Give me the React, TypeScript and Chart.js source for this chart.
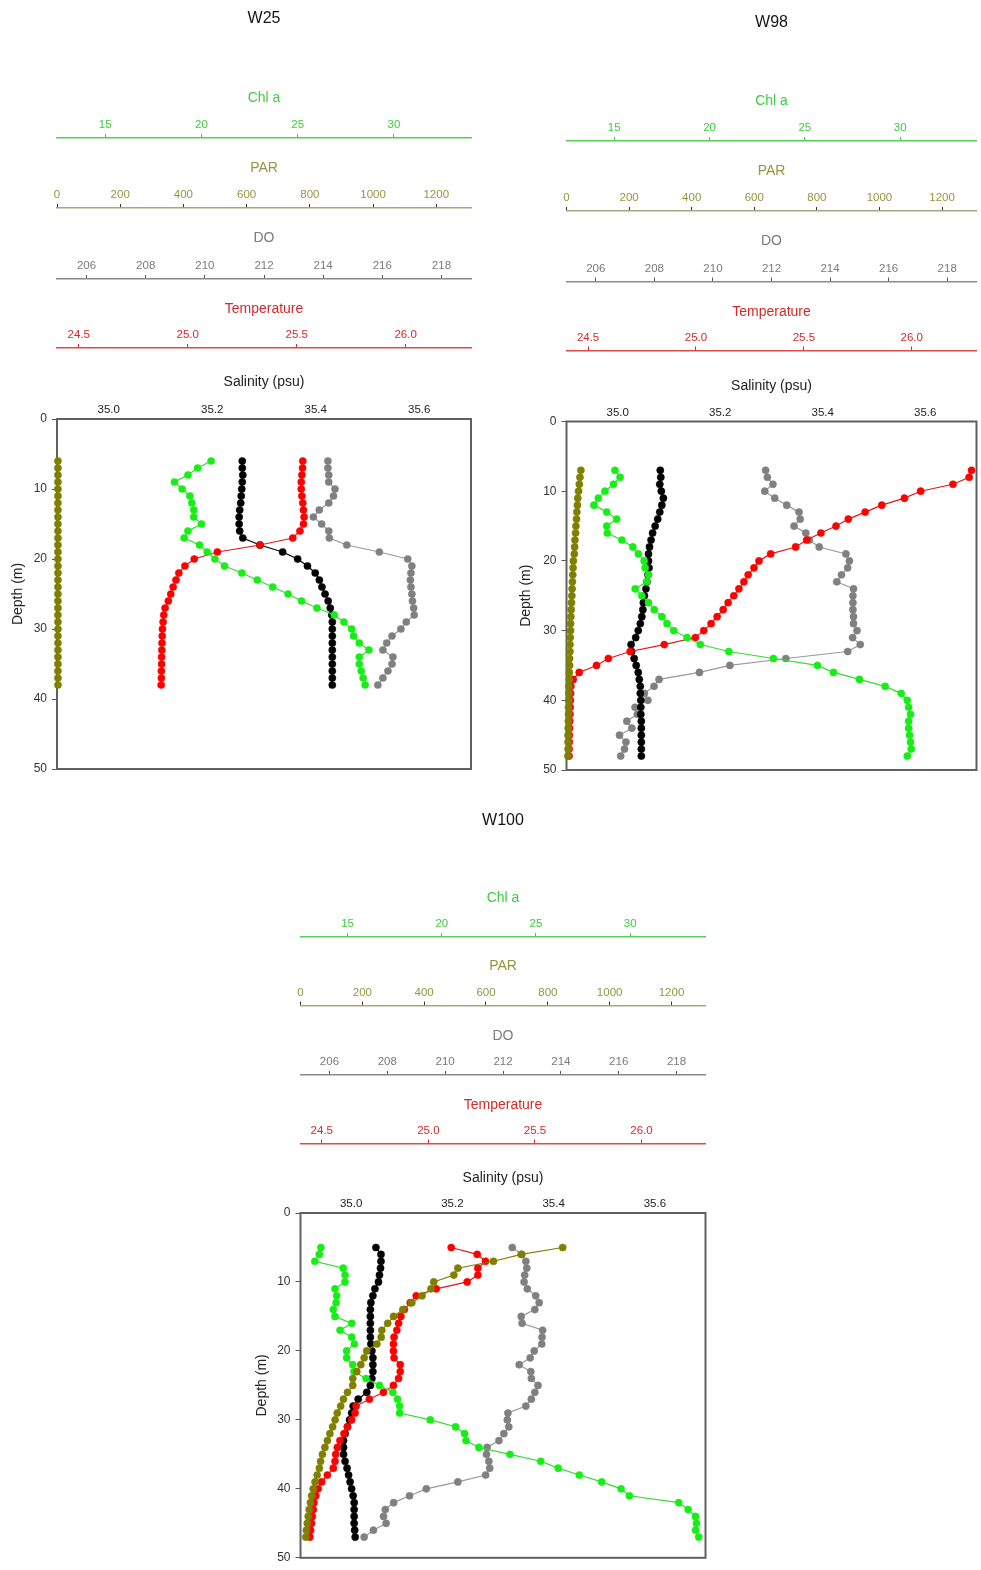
import React, { useEffect, useRef } from 'react';
import { Chart, registerables } from 'chart.js';

Chart.register(...registerables);

const FONT = '"Liberation Sans", Arial, Helvetica, sans-serif';

// ---- Axis ranges and tick values ----
const CHL_RANGE = [12.5, 34];
const PAR_RANGE = [0, 1310];
const DO_RANGE = [205, 219];
const TEMP_RANGE = [24.4, 26.3];
const SAL_RANGE = [34.9, 35.7];
const DEPTH_RANGE = [0, 50];

const CHL_TICKS = [15, 20, 25, 30];
const PAR_TICKS = [0, 200, 400, 600, 800, 1000, 1200];
const DO_TICKS = [206, 208, 210, 212, 214, 216, 218];
const TEMP_TICKS = [24.5, 25.0, 25.5, 26.0];
const SAL_TICKS = [35.0, 35.2, 35.4, 35.6];
const DEPTH_TICKS = [0, 10, 20, 30, 40, 50];

// ---- Station W25 ----
const DEPTH_W25 = [6, 7, 8, 9, 10, 11, 12, 13, 14, 15, 16, 17, 18, 19, 20, 21, 22, 23, 24, 25, 26, 27, 28, 29, 30, 31, 32, 33, 34, 35, 36, 37, 38];
const CHL_W25 = [20.5, 19.8, 19.3, 18.6, 19.0, 19.4, 19.5, 19.6, 19.6, 20.0, 19.3, 19.1, 19.9, 20.3, 20.7, 21.2, 22.1, 22.9, 23.7, 24.5, 25.2, 26.0, 26.9, 27.4, 27.8, 27.9, 28.2, 28.7, 28.2, 28.2, 28.3, 28.4, 28.5];
const PAR_W25 = [3, 3, 3, 3, 3, 3, 3, 3, 3, 3, 3, 3, 3, 3, 3, 3, 3, 3, 3, 3, 3, 3, 3, 3, 3, 3, 3, 3, 3, 3, 3, 3, 3];
const DO_W25 = [214.16, 214.16, 214.19, 214.19, 214.4, 214.35, 214.19, 213.87, 213.67, 213.95, 214.19, 214.21, 214.8, 215.9, 216.86, 217.0, 216.97, 216.95, 216.97, 217.0, 217.02, 217.06, 217.08, 216.81, 216.63, 216.33, 216.15, 216.02, 216.36, 216.33, 216.19, 216.02, 215.85];
const TEMP_W25 = [25.528, 25.527, 25.524, 25.521, 25.521, 25.524, 25.528, 25.531, 25.534, 25.531, 25.515, 25.482, 25.332, 25.136, 25.03, 24.987, 24.959, 24.946, 24.933, 24.922, 24.911, 24.896, 24.89, 24.887, 24.884, 24.883, 24.882, 24.881, 24.88, 24.88, 24.879, 24.879, 24.878];
const SAL_W25 = [35.258, 35.258, 35.259, 35.258, 35.257, 35.256, 35.255, 35.253, 35.252, 35.252, 35.253, 35.259, 35.292, 35.336, 35.365, 35.384, 35.399, 35.407, 35.412, 35.418, 35.424, 35.428, 35.431, 35.432, 35.432, 35.432, 35.432, 35.432, 35.432, 35.432, 35.432, 35.432, 35.432];

// ---- Station W98 ----
const DEPTH_W98 = [7, 8, 9, 10, 11, 12, 13, 14, 15, 16, 17, 18, 19, 20, 21, 22, 23, 24, 25, 26, 27, 28, 29, 30, 31, 32, 33, 34, 35, 36, 37, 38, 39, 40, 41, 42, 43, 44, 45, 46, 47, 48];
const CHL_W98 = [15.04, 15.31, 14.96, 14.52, 14.17, 13.94, 14.61, 15.13, 14.61, 14.64, 15.4, 15.98, 16.27, 16.57, 16.62, 16.8, 16.71, 16.1, 16.45, 16.8, 17.1, 17.5, 17.77, 18.12, 18.82, 19.52, 21.01, 23.35, 25.66, 26.5, 27.86, 29.21, 30.05, 30.37, 30.44, 30.54, 30.44, 30.44, 30.49, 30.54, 30.58, 30.37];
const PAR_W98 = [46, 43, 41, 38.5, 36, 35, 33, 32, 30, 29, 27, 26, 25, 22, 21, 20, 19, 18, 17, 16, 15, 14, 13, 13, 12, 11, 11, 10, 10, 9, 9, 7.5, 7.5, 7, 6.5, 6.5, 6, 5.5, 5, 5, 5, 4.5];
const DO_W98 = [211.8, 211.86, 212.05, 211.77, 212.11, 212.52, 212.94, 212.98, 212.77, 213.17, 213.29, 213.63, 214.54, 214.66, 214.6, 214.39, 214.23, 214.8, 214.78, 214.78, 214.78, 214.8, 214.8, 214.92, 214.77, 215.03, 214.6, 212.49, 210.58, 209.54, 208.16, 207.99, 207.66, 207.78, 207.34, 207.42, 207.06, 207.23, 206.81, 207.03, 206.98, 206.85];
const TEMP_W98 = [26.277, 26.266, 26.191, 26.041, 25.966, 25.861, 25.784, 25.706, 25.649, 25.579, 25.513, 25.462, 25.346, 25.292, 25.269, 25.242, 25.222, 25.199, 25.175, 25.149, 25.126, 25.098, 25.07, 25.036, 24.997, 24.853, 24.695, 24.594, 24.539, 24.459, 24.431, 24.42, 24.419, 24.418, 24.417, 24.416, 24.415, 24.414, 24.413, 24.413, 24.412, 24.412];
const SAL_W98 = [35.083, 35.084, 35.082, 35.085, 35.089, 35.086, 35.082, 35.078, 35.073, 35.068, 35.065, 35.062, 35.06, 35.06, 35.061, 35.059, 35.057, 35.055, 35.052, 35.05, 35.049, 35.047, 35.044, 35.04, 35.035, 35.026, 35.027, 35.032, 35.036, 35.04, 35.042, 35.044, 35.044, 35.045, 35.045, 35.045, 35.046, 35.046, 35.046, 35.046, 35.046, 35.046];

// ---- Station W100 ----
const DEPTH_W100 = [5, 6, 7, 8, 9, 10, 11, 12, 13, 14, 15, 16, 17, 18, 19, 20, 21, 22, 23, 24, 25, 26, 27, 28, 29, 30, 31, 32, 33, 34, 35, 36, 37, 38, 39, 40, 41, 42, 43, 44, 45, 46, 47];
const CHL_W100 = [13.58, 13.5, 13.26, 14.77, 14.86, 14.86, 14.33, 14.42, 14.39, 14.24, 14.33, 15.22, 14.6, 15.22, 15.36, 14.95, 14.95, 15.27, 15.34, 15.98, 16.69, 17.4, 17.65, 17.76, 17.76, 19.39, 20.73, 21.21, 21.29, 21.97, 23.62, 25.25, 26.18, 27.3, 28.49, 29.52, 29.96, 32.58, 33.08, 33.47, 33.52, 33.47, 33.64];
const PAR_W100 = [848, 714, 624, 509, 496, 431, 422, 393, 360, 331, 301, 282, 263, 261, 247, 214, 206, 195, 182, 169, 169, 152, 139, 130, 119, 112, 104, 95, 87, 79, 71, 65, 61, 54, 47, 41, 36, 32, 28, 25, 22, 19, 17];
const DO_W100 = [212.32, 212.65, 212.79, 212.82, 212.75, 212.73, 212.84, 213.13, 213.25, 213.1, 212.63, 212.66, 213.37, 213.35, 213.34, 213.08, 212.94, 212.56, 212.96, 212.98, 213.21, 213.1, 212.98, 212.79, 212.17, 212.15, 212.2, 212.03, 211.86, 211.45, 211.43, 211.51, 211.54, 211.4, 210.44, 209.35, 208.77, 208.22, 207.93, 207.87, 207.96, 207.52, 207.2];
const TEMP_W100 = [25.107, 25.229, 25.268, 25.232, 25.232, 25.182, 25.037, 24.943, 24.915, 24.887, 24.871, 24.86, 24.852, 24.839, 24.836, 24.836, 24.839, 24.868, 24.868, 24.86, 24.836, 24.789, 24.723, 24.661, 24.656, 24.64, 24.62, 24.604, 24.585, 24.573, 24.565, 24.562, 24.554, 24.526, 24.499, 24.483, 24.472, 24.463, 24.46, 24.455, 24.452, 24.447, 24.444];
const SAL_W100 = [35.049, 35.059, 35.059, 35.058, 35.056, 35.054, 35.047, 35.043, 35.039, 35.038, 35.038, 35.038, 35.038, 35.038, 35.039, 35.041, 35.043, 35.043, 35.043, 35.041, 35.038, 35.031, 35.014, 35.004, 35.001, 34.997, 34.993, 34.988, 34.985, 34.985, 34.985, 34.988, 34.992, 34.995, 34.998, 35.001, 35.004, 35.006, 35.006, 35.006, 35.006, 35.007, 35.008];

// ---- Stacked top axes (outermost first) ----
const AXES = [
  { id: 'xChl', title: 'Chl a', range: CHL_RANGE, ticks: CHL_TICKS, decimals: 0, text: '#3fcc3f', line: '#55d055', mark: '#3fcc3f', drawMarks: true },
  { id: 'xPar', title: 'PAR', range: PAR_RANGE, ticks: PAR_TICKS, decimals: 0, text: '#96943f', line: '#a9a57a', mark: '#333333', drawMarks: true },
  { id: 'xDo', title: 'DO', range: DO_RANGE, ticks: DO_TICKS, decimals: 0, text: '#7a7a7a', line: '#8a8a8a', mark: '#555555', drawMarks: true },
  { id: 'xTemp', title: 'Temperature', range: TEMP_RANGE, ticks: TEMP_TICKS, decimals: 1, text: '#d22a2a', line: '#df4a4a', mark: '#d22a2a', drawMarks: true },
  { id: 'xSal', title: 'Salinity (psu)', range: SAL_RANGE, ticks: SAL_TICKS, decimals: 1, text: '#222222', line: '#5f5f5f', mark: '#5f5f5f', drawMarks: false },
];

// ---- Profile series (first drawn on top) ----
const SERIES = [
  { key: 'par', label: 'PAR', axis: 'xPar', point: '#808000', line: '#808000' },
  { key: 'chl', label: 'Chl a', axis: 'xChl', point: '#16ee16', line: '#33dd33' },
  { key: 'temp', label: 'Temperature', axis: 'xTemp', point: '#ff0000', line: '#e01818' },
  { key: 'sal', label: 'Salinity', axis: 'xSal', point: '#000000', line: '#000000' },
  { key: 'do', label: 'DO', axis: 'xDo', point: '#808080', line: '#9a9a9a' },
];

// ---- Panel geometry (page pixels) ----
const PANELS = [
  {
    name: 'W25',
    depth: DEPTH_W25, chl: CHL_W25, par: PAR_W25, do: DO_W25, temp: TEMP_W25, sal: SAL_W25,
    canvas: { left: 0, top: 0, width: 490, height: 790 },
    plot: { left: 57, right: 471, bottom: 769 },
    titleY: 19,
    borders: [138, 208, 279, 348, 419],
    axisTitleY: [98, 168, 238, 309, 382],
    depthTitleX: 18,
  },
  {
    name: 'W98',
    depth: DEPTH_W98, chl: CHL_W98, par: PAR_W98, do: DO_W98, temp: TEMP_W98, sal: SAL_W98,
    canvas: { left: 495, top: 0, width: 486, height: 790 },
    plot: { left: 566.5, right: 976.5, bottom: 770 },
    titleY: 22.5,
    borders: [141, 211, 281.5, 350.5, 421.5],
    axisTitleY: [101, 171.5, 241.5, 312, 386],
    depthTitleX: 526,
  },
  {
    name: 'W100',
    depth: DEPTH_W100, chl: CHL_W100, par: PAR_W100, do: DO_W100, temp: TEMP_W100, sal: SAL_W100,
    canvas: { left: 235, top: 795, width: 490, height: 775 },
    plot: { left: 300.5, right: 705.5, bottom: 1560 },
    titleY: 820.5,
    borders: [937, 1005.5, 1075, 1143.5, 1213],
    axisTitleY: [898.5, 966.5, 1036, 1105, 1178.5],
    depthTitleX: 262,
  },
];

const TITLE_SIZE = 16;
const AXIS_TITLE_SIZE = 14;
const TICK_SIZE = 11.5;

// Frame around the plotting area
const plotFrame = {
  id: 'plotFrame',
  beforeDatasetsDraw(chart: any) {
    const { ctx, chartArea: a } = chart;
    ctx.save();
    ctx.strokeStyle = '#606060';
    ctx.lineWidth = 2;
    ctx.strokeRect(a.left, a.top, a.right - a.left, a.bottom - a.top);
    ctx.restore();
  },
};

function buildConfig(p: any) {
  const c = p.canvas;
  const rel = (y: number) => y - c.top;
  const titleLh = TITLE_SIZE * 1.2;
  const axisTitleLh = AXIS_TITLE_SIZE * 1.2;
  const tickLh = TICK_SIZE * 1.2;
  const firstTop = rel(p.axisTitleY[0]) - 30;
  const titleCenter = rel(p.titleY);

  const scales: any = {};
  AXES.forEach((a, i) => {
    const top = i === 0 ? firstTop : rel(p.borders[i - 1]);
    const bottom = rel(p.borders[i]);
    const height = bottom - top;
    const titlePad = rel(p.axisTitleY[i]) - top - axisTitleLh / 2;
    const markLen = a.drawMarks ? 4 : 0;
    const labelGap = a.drawMarks ? 13 : 9;
    scales[a.id] = {
      type: 'linear',
      axis: 'x',
      position: 'top',
      weight: AXES.length - i,
      min: a.range[0],
      max: a.range[1],
      afterBuildTicks: (s: any) => {
        s.ticks = a.ticks.map((v: number) => ({ value: v }));
      },
      afterFit: (s: any) => {
        s.height = height;
      },
      grid: {
        display: a.drawMarks,
        drawOnChartArea: false,
        drawTicks: a.drawMarks,
        tickLength: markLen,
        color: a.mark,
        tickColor: a.mark,
        lineWidth: 1,
      },
      border: { display: a.id !== 'xSal', color: a.line, width: 1.5 },
      ticks: {
        color: a.text,
        font: { family: FONT, size: TICK_SIZE },
        padding: labelGap - markLen - tickLh / 2,
        maxRotation: 0,
        minRotation: 0,
        autoSkip: false,
        callback: (v: any) => Number(v).toFixed(a.decimals),
      },
      title: {
        display: true,
        text: a.title,
        color: a.text,
        font: { family: FONT, size: AXIS_TITLE_SIZE },
        padding: { top: titlePad, bottom: 0 },
      },
    };
  });

  const yWidth = p.plot.left - c.left;
  scales.y = {
    type: 'linear',
    axis: 'y',
    position: 'left',
    reverse: true,
    min: DEPTH_RANGE[0],
    max: DEPTH_RANGE[1],
    afterBuildTicks: (s: any) => {
      s.ticks = DEPTH_TICKS.map((v) => ({ value: v }));
    },
    afterFit: (s: any) => {
      s.width = yWidth;
    },
    grid: {
      display: true,
      drawOnChartArea: false,
      drawTicks: true,
      tickLength: 5,
      color: '#555555',
      tickColor: '#555555',
      lineWidth: 1,
    },
    border: { display: false },
    ticks: {
      color: '#333333',
      font: { family: FONT, size: 12 },
      padding: 5,
      autoSkip: false,
    },
    title: {
      display: true,
      text: 'Depth (m)',
      color: '#222222',
      font: { family: FONT, size: 14 },
      padding: { top: p.depthTitleX - c.left - axisTitleLh / 2, bottom: 0 },
    },
  };

  const datasets = SERIES.map((s) => ({
    label: s.label,
    xAxisID: s.axis,
    yAxisID: 'y',
    data: p.depth.map((d: number, j: number) => ({ x: p[s.key][j], y: d })),
    showLine: true,
    borderColor: s.line,
    borderWidth: 1.2,
    backgroundColor: s.point,
    pointRadius: 3.6,
    pointBackgroundColor: s.point,
    pointBorderColor: s.point,
    pointBorderWidth: 0.5,
    clip: false,
  }));

  return {
    type: 'scatter',
    data: { datasets },
    options: {
      responsive: false,
      animation: false,
      events: [],
      layout: {
        padding: {
          left: 0,
          top: 0,
          right: c.left + c.width - p.plot.right,
          bottom: c.top + c.height - p.plot.bottom,
        },
      },
      plugins: {
        legend: { display: false },
        tooltip: { enabled: false },
        title: {
          display: true,
          text: p.name,
          fullSize: false,
          align: 'center',
          color: '#141414',
          font: { family: FONT, size: TITLE_SIZE, weight: 'normal' },
          padding: {
            top: titleCenter - titleLh / 2,
            bottom: firstTop - titleCenter - titleLh / 2,
          },
        },
      },
      scales,
    },
    plugins: [plotFrame],
  };
}

function ProfilePanel({ panel }: { panel: any }) {
  const ref = useRef<HTMLCanvasElement>(null);
  useEffect(() => {
    if (!ref.current) return;
    const chart = new Chart(ref.current, buildConfig(panel) as any);
    return () => chart.destroy();
  }, [panel]);
  const c = panel.canvas;
  return (
    <canvas
      ref={ref}
      width={c.width}
      height={c.height}
      style={{ position: 'absolute', left: c.left, top: c.top, width: c.width, height: c.height }}
    />
  );
}

export default function App() {
  return (
    <div style={{ position: 'absolute', left: 0, top: 0, width: 981, height: 1570, background: '#ffffff' }}>
      {PANELS.map((p) => (
        <ProfilePanel key={p.name} panel={p} />
      ))}
    </div>
  );
}
